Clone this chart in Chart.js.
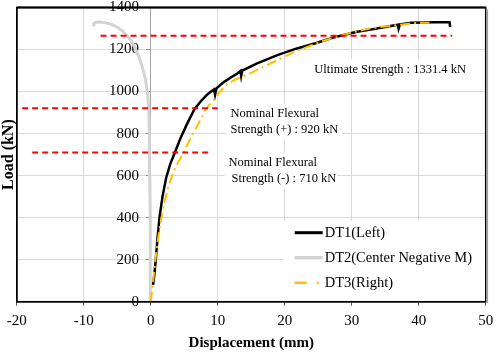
<!DOCTYPE html>
<html>
<head>
<meta charset="utf-8">
<script src="https://cdn.jsdelivr.net/npm/chart.js@4.4.0/dist/chart.umd.min.js"></script>
<style>
html, body { margin: 0; padding: 0; background: #ffffff; }
canvas { display: block; }
</style>
</head>
<body>
<canvas id="chart" width="500" height="354" style="width:500px;height:354px"></canvas>
<script>
// ---------------- data ----------------
const xTicks = [-20, -10, 0, 10, 20, 30, 40, 50];
const yTicks = [0, 200, 400, 600, 800, 1000, 1200, 1400];
const seriesNames = ['DT1(Left)', 'DT2(Center Negative M)', 'DT3(Right)'];

const dt1X = [0.35, 0.5, 0.75, 1.0, 1.3, 1.75, 2.3, 2.9, 3.6, 4.4, 5.4, 6.5, 7.5, 8.4, 9.0, 9.45, 9.6, 9.8, 10.9, 12.0, 12.9, 13.4, 13.5, 13.65, 15.8, 18.8, 21.7, 24.7, 27.6, 30.6, 33.5, 36.9, 37.0, 37.2, 38.9, 42.3, 44.6, 44.7];
const dt1Y = [80, 120, 200, 300, 400, 500, 590, 655, 710, 775, 845, 915, 955, 985, 1000, 1010, 985, 1015, 1045, 1068, 1085, 1098, 1075, 1100, 1133, 1172, 1204, 1231, 1260, 1283, 1299, 1318, 1300, 1320, 1328, 1330, 1330, 1307];

const dt2X = [0, -0.05, -0.1, -0.15, -0.2, -0.3, -0.5, -0.8, -1.2, -1.7, -2.3, -2.9, -3.5, -4.2, -5.0, -5.9, -6.8, -7.6, -8.2, -8.5, -8.5];
const dt2Y = [0, 200, 400, 600, 800, 920, 1000, 1060, 1110, 1160, 1205, 1240, 1265, 1288, 1306, 1320, 1328, 1331, 1330, 1324, 1310];

const dt3X = [0, 0.3, 0.6, 0.95, 1.4, 1.95, 2.6, 3.4, 4.2, 5.0, 5.9, 6.9, 7.7, 8.2, 8.7, 9.3, 9.9, 10.5, 11.4, 12.5, 13.5, 14.9, 16.8, 18.8, 21.2, 23.2, 25.2, 28.6, 30.5, 32.5, 34.5, 36.5, 38.5, 40.0, 41.6];
const dt3Y = [0, 80, 175, 270, 365, 460, 545, 620, 670, 715, 775, 835, 880, 915, 935, 955, 980, 1005, 1035, 1055, 1069, 1088, 1117, 1148, 1185, 1210, 1236, 1268, 1285, 1299, 1308, 1315, 1323, 1327, 1328];

// reference (dashed) levels
const refLoads = [1265, 920, 710];
const refFrom = [-7.5, -19.2, -17.7];
const refTo = [45, 10, 9];

const noteTexts = [
  ['Ultimate Strength : 1331.4 kN'],
  ['Nominal Flexural', 'Strength (+) : 920 kN'],
  ['Nominal Flexural', 'Strength (-) : 710 kN']
];

// ---------------- chart ----------------
const serif = "'Liberation Serif', 'Times New Roman', serif";
const toPts = (xs, ys) => xs.map((x, i) => ({ x: x, y: ys[i] }));

const datasets = [
  { label: seriesNames[0], data: toPts(dt1X, dt1Y), borderColor: '#000000', borderWidth: 2.5, order: 4, legendItem: true },
  { label: seriesNames[1], data: toPts(dt2X, dt2Y), borderColor: '#d3d3d3', borderWidth: 3, order: 5, legendItem: true },
  { label: seriesNames[2], data: toPts(dt3X, dt3Y), borderColor: '#ffc000', borderWidth: 2, borderDash: [10, 4, 2, 4], order: 3, legendItem: true }
];
refLoads.forEach((v, i) => {
  datasets.push({
    label: 'ref' + i,
    data: [{ x: refFrom[i], y: v }, { x: refTo[i], y: v }],
    borderColor: '#ff0000', borderWidth: 2, borderDash: [6, 4], order: 1
  });
});
datasets.forEach(d => { d.showLine = true; d.pointRadius = 0; d.fill = false; d.tension = 0; });

const framePlugin = {
  id: 'frame',
  afterDatasetsDraw(chart) {
    const { ctx, chartArea: a } = chart;
    ctx.save();
    ctx.strokeStyle = '#000000';
    ctx.lineWidth = 1.5;
    ctx.strokeRect(a.left, a.top, a.right - a.left, a.bottom - a.top);
    ctx.lineWidth = 2;
    ctx.beginPath();
    ctx.moveTo(a.left, a.top);
    ctx.lineTo(a.right, a.top);
    ctx.stroke();
    ctx.strokeStyle = '#a0a0a0';
    ctx.lineWidth = 1.5;
    ctx.beginPath();
    ctx.moveTo(a.right + 1.6, a.top + 2);
    ctx.lineTo(a.right + 1.6, a.bottom + 1);
    ctx.stroke();
    ctx.restore();
  }
};

const notesPlugin = {
  id: 'notes',
  afterDatasetsDraw(chart, args, opts) {
    const { ctx } = chart;
    const xs = chart.scales.x, ys = chart.scales.y;
    ctx.save();
    ctx.font = opts.fontSize + 'px ' + serif;
    ctx.textBaseline = 'middle';
    ctx.textAlign = 'left';
    opts.items.forEach(item => {
      const px = xs.getPixelForValue(item.x);
      const py = ys.getPixelForValue(item.y);
      const lh = opts.lineHeight;
      let w = 0;
      item.lines.forEach(l => { w = Math.max(w, ctx.measureText(l).width); });
      ctx.fillStyle = '#ffffff';
      ctx.fillRect(px - 4, py - lh / 2 - 2, w + 8, lh * item.lines.length + 4);
      ctx.fillStyle = '#000000';
      item.lines.forEach((l, k) => ctx.fillText(l, px + (item.dx ? item.dx[k] : 0), py + k * lh));
    });
    ctx.restore();
  }
};

const legendPlugin = {
  id: 'boxLegend',
  afterDraw(chart, args, opts) {
    const { ctx, chartArea: a } = chart;
    const items = chart.data.datasets.filter(d => d.legendItem);
    ctx.save();
    ctx.fillStyle = '#ffffff';
    ctx.fillRect(a.right - opts.boxWidth, a.bottom - opts.boxHeight, opts.boxWidth - 1, opts.boxHeight - 1);
    ctx.font = opts.fontSize + 'px ' + serif;
    ctx.textBaseline = 'middle';
    ctx.textAlign = 'left';
    items.forEach((d, i) => {
      const y = a.bottom - opts.firstOffset + i * opts.rowGap;
      const x0 = a.right - opts.lineStart;
      ctx.strokeStyle = d.borderColor;
      ctx.lineWidth = d.borderWidth + 0.5;
      ctx.setLineDash(d.borderDash ? [12, 10, 2, 10] : []);
      ctx.beginPath();
      ctx.moveTo(x0, y);
      ctx.lineTo(x0 + opts.lineLen, y);
      ctx.stroke();
      ctx.setLineDash([]);
      ctx.fillStyle = '#000000';
      ctx.fillText(d.label, x0 + opts.lineLen + 2, y);
    });
    ctx.restore();
  }
};

new Chart(document.getElementById('chart'), {
  type: 'scatter',
  data: { datasets: datasets },
  options: {
    responsive: false,
    devicePixelRatio: 1,
    animation: false,
    layout: { padding: { top: 0, right: 8, bottom: 3, left: 0 } },
    plugins: {
      legend: { display: false },
      tooltip: { enabled: false },
      notes: {
        fontSize: 12.5,
        lineHeight: 16,
        items: [
          { lines: noteTexts[0], x: 24.4, y: 1105 },
          { lines: noteTexts[1], x: 11.9, y: 895 },
          { lines: noteTexts[2], x: 11.6, y: 662, dx: [0, 3] }
        ]
      },
      boxLegend: {
        boxWidth: 203, boxHeight: 81, fontSize: 14.5,
        firstOffset: 69, rowGap: 25, lineStart: 191, lineLen: 28
      }
    },
    scales: {
      x: {
        type: 'linear', position: 'bottom', min: -20, max: 50,
        afterBuildTicks: axis => { axis.ticks = xTicks.map(v => ({ value: v })); },
        grid: { color: '#d9d9d9', lineWidth: 1, drawTicks: true, tickLength: 4, tickColor: '#595959' },
        border: { display: true, color: '#000000', width: 1.5 },
        ticks: { font: { family: serif, size: 15, lineHeight: 1.2 }, color: '#000000', padding: 6.8, maxRotation: 0 },
        title: { display: true, text: 'Displacement (mm)', color: '#000000',
                 font: { family: serif, size: 15, weight: 'bold', lineHeight: 1.0 }, padding: { top: -1.3, bottom: 0 } }
      },
      y: {
        type: 'linear', position: { x: 0 }, min: 0, max: 1400,
        afterBuildTicks: axis => { axis.ticks = yTicks.map(v => ({ value: v })); },
        grid: { color: '#d9d9d9', lineWidth: 1, drawTicks: true, tickLength: 4, tickColor: '#8c8c8c' },
        border: { display: true, color: '#a6a6a6', width: 1 },
        ticks: { display: false },
        title: { display: false }
      },
      yt: {
        type: 'linear', position: { x: -1.75 }, min: 0, max: 1400,
        afterBuildTicks: axis => { axis.ticks = yTicks.map(v => ({ value: v })); },
        grid: { display: false, drawTicks: false },
        border: { display: false },
        ticks: { font: { family: serif, size: 15, lineHeight: 1 }, color: '#000000', padding: 0,
                 callback: v => String(v) },
        title: { display: false }
      },
      yl: {
        type: 'linear', position: 'left', min: 0, max: 1400,
        grid: { display: false, drawTicks: false },
        border: { display: true, color: '#000000', width: 1.5 },
        ticks: { display: false },
        title: { display: true, text: 'Load (kN)', color: '#000000',
                 font: { family: serif, size: 16, weight: 'bold', lineHeight: 1.05 }, padding: 0 }
      }
    }
  },
  plugins: [framePlugin, notesPlugin, legendPlugin]
});
</script>
</body>
</html>
